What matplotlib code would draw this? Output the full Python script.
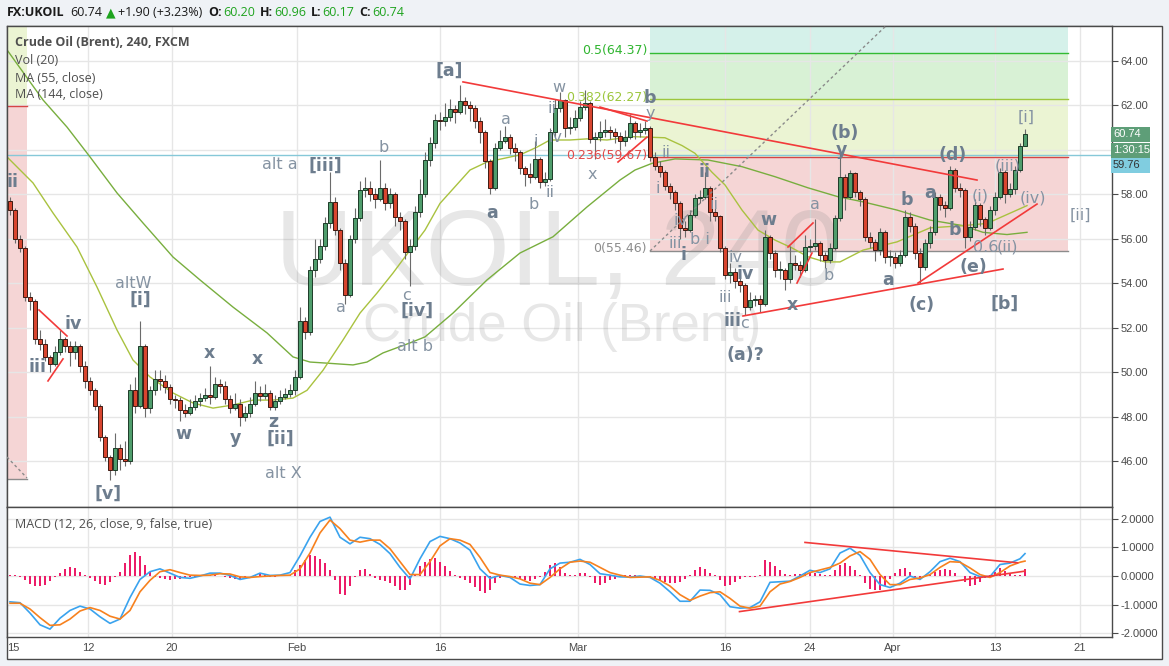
import matplotlib
matplotlib.use("Agg")
import matplotlib.pyplot as plt
import numpy as np
from matplotlib.patches import Rectangle

W, H = 1169, 666

# ---------------- data (4h candles, index = candle no.) ----------------
open0 = 57.7
close = [
    57.3, 56.0, 55.6, 53.4, 53.2, 51.5, 51.3, 50.7, 50.4, 50.9,
    51.5, 51.2, 50.9, 51.2, 50.3, 49.6, 49.2, 48.5, 47.1, 46.2,
    45.6, 46.6, 46.1, 46.0, 49.2, 48.5, 51.2, 48.4, 49.2, 49.7,
    49.6, 49.35, 48.8, 48.75, 48.3, 48.2, 48.45, 48.7, 48.85, 49.0,
    48.9, 49.5, 49.4, 48.8, 48.4, 48.6, 48.0, 48.2, 48.6, 49.1,
    48.95, 49.1, 48.45, 48.7, 48.9, 49.05, 49.2, 49.8, 52.3, 51.8,
    54.6, 55.1, 55.7, 56.7, 57.65, 56.4, 54.9, 53.5, 56.0, 56.95,
    58.2, 58.3, 58.0, 57.8, 58.3, 57.6, 58.0, 57.0, 56.8, 55.4,
    55.7, 57.2, 58.0, 59.55, 60.3, 61.35, 61.3, 61.5, 61.85, 61.7,
    62.2, 62.0, 61.9, 61.3, 60.8, 59.5, 58.3, 60.1, 60.4, 60.6,
    60.1, 59.9, 59.2, 58.9, 58.8, 59.6, 58.55, 58.7, 60.8, 61.9,
    62.25, 61.0, 61.05, 61.45, 61.95, 62.1, 60.5, 60.6, 60.8, 60.9,
    60.8, 60.65, 60.4, 60.6, 61.2, 60.8, 60.9, 61.0, 59.7, 59.3,
    59.0, 58.4, 58.1, 57.6, 56.5, 56.4, 57.1, 57.85, 57.9, 58.3,
    57.2, 57.05, 55.6, 54.4, 54.5, 54.1, 53.95, 52.95, 53.25, 53.3,
    53.1, 56.1, 55.35, 54.6, 54.6, 54.2, 54.9, 54.85, 54.6, 55.65,
    55.7, 55.8, 55.3, 55.05, 55.6, 56.95, 58.8, 57.9, 58.95, 58.1,
    57.8, 56.1, 55.85, 55.5, 56.3, 55.2, 55.2, 54.9, 55.3, 57.0,
    56.6, 55.35, 54.75, 55.8, 56.3, 57.9, 57.55, 57.4, 59.1, 58.3,
    58.2, 56.1, 56.55, 57.55, 56.9, 56.5, 57.3, 57.9, 59.0, 58.0,
    58.25, 59.1, 60.2, 60.74,
]
high = [
    57.9, 57.4, 56.2, 55.7, 53.6, 53.3, 51.9, 51.5, 50.8, 51.2,
    51.9, 51.6, 51.4, 51.4, 51.3, 50.5, 49.8, 49.3, 48.6, 47.2,
    46.3, 47.3, 46.8, 46.9, 49.5, 49.8, 52.3, 51.3, 49.4, 50.1,
    50.1, 49.9, 49.5, 49.0, 48.9, 48.6, 48.8, 49.0, 49.1, 49.3,
    50.3, 49.8, 49.7, 49.6, 49.0, 49.1, 48.8, 48.5, 48.9, 49.6,
    49.4, 49.5, 49.2, 49.0, 49.2, 49.3, 49.5, 50.1, 52.95, 52.5,
    54.8, 56.0, 56.0, 57.0, 59.0, 57.9, 56.5, 55.1, 56.2, 57.4,
    58.6, 58.8, 58.6, 58.3, 59.55, 58.5, 58.3, 58.1, 57.2, 56.9,
    56.0, 57.5, 58.7, 59.9, 60.6, 61.6, 61.7, 62.1, 62.3, 62.0,
    62.9, 62.4, 62.2, 62.0, 61.5, 60.9, 59.6, 60.3, 60.9, 61.1,
    60.7, 60.3, 60.0, 59.3, 59.4, 60.4, 59.7, 59.0, 61.0, 62.3,
    62.6, 62.3, 61.5, 61.8, 62.2, 62.7, 62.2, 60.8, 61.3, 61.4,
    61.1, 61.0, 60.8, 60.9, 61.6, 61.3, 61.2, 61.3, 61.1, 59.9,
    59.5, 59.1, 58.5, 58.2, 57.7, 56.8, 57.3, 58.0, 58.2, 59.0,
    58.4, 57.4, 57.1, 55.7, 54.9, 54.7, 54.4, 54.0, 53.6, 53.5,
    53.5, 56.4, 56.2, 55.5, 55.0, 54.7, 55.7, 55.3, 55.0, 56.2,
    56.0, 56.9, 55.9, 55.4, 55.8, 57.1, 59.85, 58.9, 59.1, 59.0,
    58.2, 57.9, 56.3, 56.0, 56.5, 56.4, 55.5, 55.4, 55.5, 57.3,
    57.2, 56.7, 55.6, 56.0, 56.6, 58.1, 58.0, 57.7, 59.3, 59.2,
    58.5, 58.3, 56.8, 57.8, 57.6, 57.0, 57.5, 58.1, 59.2, 59.1,
    58.5, 59.3, 60.3, 60.96,
]
low = [
    57.1, 55.8, 55.4, 53.2, 52.8, 51.3, 51.0, 50.5, 50.0, 50.3,
    50.8, 50.9, 50.3, 50.6, 50.0, 49.3, 49.0, 48.3, 46.9, 46.0,
    45.15, 45.4, 45.6, 45.8, 45.9, 48.2, 48.4, 48.0, 48.2, 49.0,
    49.2, 49.1, 48.6, 48.4, 47.8, 48.0, 48.1, 48.3, 48.5, 48.7,
    48.6, 48.8, 49.1, 48.6, 48.2, 48.3, 47.6, 47.8, 48.0, 48.5,
    48.7, 48.8, 48.3, 48.3, 48.6, 48.8, 48.9, 49.0, 49.7, 51.5,
    51.7, 54.3, 54.9, 55.5, 56.5, 56.2, 54.6, 53.1, 53.4, 55.8,
    56.8, 57.9, 57.7, 57.4, 57.7, 57.3, 57.4, 56.6, 56.4, 55.1,
    53.9, 55.5, 57.0, 57.9, 59.3, 60.1, 60.9, 61.1, 61.3, 61.2,
    61.6, 61.6, 61.3, 61.0, 60.3, 59.2, 58.0, 58.2, 60.0, 60.3,
    59.8, 59.5, 58.9, 58.4, 58.5, 58.7, 58.3, 58.4, 58.6, 60.6,
    61.7, 60.6, 60.7, 60.9, 61.3, 61.8, 60.3, 59.6, 60.4, 60.6,
    60.5, 60.3, 60.0, 60.2, 60.5, 60.5, 60.6, 60.7, 59.5, 59.1,
    58.8, 58.2, 57.8, 57.3, 56.0, 56.1, 56.3, 57.0, 57.6, 57.8,
    56.8, 56.8, 55.4, 54.2, 54.0, 53.8, 53.6, 52.6, 52.8, 53.0,
    52.7, 53.0, 55.1, 54.3, 54.2, 53.7, 54.0, 54.6, 54.3, 54.5,
    55.4, 55.5, 55.0, 54.7, 54.9, 55.5, 56.8, 57.3, 57.8, 57.9,
    57.5, 55.9, 55.6, 55.0, 55.3, 54.9, 54.8, 54.7, 54.8, 55.2,
    56.3, 55.1, 54.0, 54.6, 55.6, 56.2, 57.3, 57.0, 57.3, 58.1,
    57.9, 55.6, 55.9, 56.4, 56.6, 56.2, 56.4, 57.1, 57.8, 57.6,
    57.9, 58.0, 59.0, 60.17,
]

# moving averages at the candle positions given
ma55_idx = [-0.6, 4.6, 8.6, 13.4, 17.4, 21.4, 24.6, 28, 32.6, 36.6,
            40.6, 44.6, 48.6, 52.6, 56.6, 59.4, 62.6, 66.6, 70, 73.4,
            76.6, 80, 83, 86, 92, 95.4, 102, 105.4, 108, 112,
            115.4, 119.4, 124.6, 131, 134.4, 137, 140.4, 143, 146.4, 149.6,
            153, 156.4, 159.6, 163, 166, 170.6, 177.4, 184, 190.6, 195.4,
            199.4, 203.4]
ma55 = [59.69, 58.52, 57.17, 55.64, 53.84, 51.91, 50.56, 49.8, 49.08, 48.63,
        48.4, 48.54, 48.76, 48.76, 48.85, 49.2, 50.1, 51.46, 52.67, 53.57,
        54.47, 55.5, 56.4, 57.6, 59.1, 59.46, 59.78, 60.13, 60.45, 60.45,
        60.5, 60.45, 60.6, 60.55, 60.2, 59.85, 59.0, 58.43, 57.3, 56.4,
        55.95, 55.6, 55.2, 54.97, 54.97, 55.5, 55.87, 56.5, 56.6, 56.7,
        57.1, 57.5]
ma144_idx = [-0.6, 6.6, 11.4, 16, 21.4, 26.6, 32.6, 38, 44.6, 51.4,
             56.6, 60, 63.4, 68.6, 71.4, 74.6, 80, 83, 88.6, 95.4,
             102, 108.6, 115.4, 122, 125, 128.4, 133, 139.6, 146.4, 153,
             159.6, 165.6, 170.6, 177.4, 184, 190.6, 194.6, 199.4, 203.4]
ma144 = [64.5, 62.25, 61.03, 59.69, 58.07, 56.72, 55.19, 54.16, 52.94, 51.78,
         50.7, 50.47, 50.42, 50.34, 50.47, 50.88, 51.33, 51.6, 52.67, 54.16,
         55.37, 56.1, 57.44, 58.65, 59.1, 59.4, 59.6, 59.55, 59.25, 58.8,
         58.3, 57.9, 57.67, 57.3, 56.85, 56.6, 56.3, 56.2, 56.3]

# MACD / signal read every second candle, histogram every candle
macd_idx = list(range(0, 203, 2)) + [203]
macd = [
    -0.90, -0.93, -1.29, -1.70, -1.85, -1.47, -1.20, -1.05, -1.15, -1.42,
    -1.65, -1.50, -0.75, -0.12, 0.15, 0.25, 0.10, -0.05, -0.08, 0.00,
    0.10, 0.10, 0.02, -0.12, -0.05, 0.10, 0.02, 0.03, 0.12, 0.70,
    1.35, 1.90, 2.05, 1.35, 1.12, 1.35, 1.30, 1.10, 0.78, 0.30,
    -0.10, 0.60, 1.20, 1.38, 1.30, 1.15, 0.90, 0.25, -0.08, 0.02,
    -0.05, -0.28, -0.33, -0.30, 0.25, 0.45, 0.48, 0.58, 0.40, 0.08,
    0.03, -0.03, -0.04, 0.00, -0.05, -0.25, -0.55, -0.88, -0.88, -0.49,
    -0.50, -0.65, -1.07, -1.12, -1.10, -0.90, -0.22, -0.20, -0.18, 0.00,
    0.20, 0.12, 0.25, 0.80, 0.97, 0.72, 0.12, -0.30, -0.40, -0.25,
    0.00, -0.12, 0.15, 0.50, 0.62, 0.50, 0.12, -0.02, -0.02, 0.40,
    0.45, 0.60, 0.78,
]
signal = [
    -0.95, -0.95, -1.15, -1.45, -1.72, -1.70, -1.50, -1.22, -1.10, -1.20,
    -1.40, -1.50, -1.20, -0.55, -0.15, 0.15, 0.22, 0.12, 0.03, 0.02,
    0.03, 0.08, 0.07, -0.03, -0.05, -0.02, 0.00, 0.02, 0.03, 0.25,
    0.80, 1.50, 1.95, 1.65, 1.25, 1.18, 1.25, 1.25, 0.95, 0.50,
    0.05, 0.05, 0.50, 1.05, 1.30, 1.25, 1.10, 0.65, 0.12, 0.03,
    -0.02, -0.10, -0.25, -0.30, -0.05, 0.25, 0.48, 0.52, 0.48, 0.30,
    0.12, 0.03, -0.05, -0.04, -0.03, -0.15, -0.35, -0.65, -0.85, -0.70,
    -0.58, -0.55, -0.78, -1.05, -1.12, -1.05, -0.55, -0.28, -0.19, -0.05,
    0.12, 0.21, 0.30, 0.45, 0.70, 0.85, 0.58, 0.05, -0.30, -0.30,
    -0.12, -0.07, 0.05, 0.30, 0.50, 0.48, 0.28, 0.05, -0.05, 0.12,
    0.35, 0.48, 0.52,
]
hist = [
    0.03, 0.02, -0.05, -0.15, -0.28, -0.36, -0.35, -0.30, -0.18, -0.05,
    0.12, 0.25, 0.31, 0.28, 0.15, 0.02, -0.08, -0.18, -0.27, -0.31,
    -0.22, -0.05, 0.15, 0.45, 0.72, 0.85, 0.70, 0.40, 0.15, -0.02,
    -0.08, -0.12, -0.14, -0.12, -0.10, -0.08, -0.05, -0.03, 0.00, 0.02,
    0.04, 0.03, 0.00, -0.04, -0.08, -0.10, -0.09, -0.05, 0.00, 0.05,
    0.06, 0.03, -0.02, -0.02, 0.00, 0.02, 0.05, 0.20, 0.38, 0.55,
    0.72, 0.70, 0.60, 0.45, 0.20, -0.15, -0.62, -0.66, -0.35, -0.02,
    0.20, 0.24, 0.08, -0.08, -0.15, -0.18, -0.25, -0.35, -0.48, -0.50,
    -0.30, 0.05, 0.35, 0.50, 0.58, 0.62, 0.50, 0.35, 0.18, 0.03,
    -0.08, -0.15, -0.25, -0.40, -0.52, -0.60, -0.48, -0.25, -0.08, -0.05,
    -0.03, -0.08, -0.12, -0.15, -0.18, -0.10, -0.02, 0.15, 0.38, 0.46,
    0.30, 0.10, 0.04, 0.05, 0.10, 0.12, -0.05, -0.25, -0.31, -0.25,
    -0.15, -0.10, -0.04, 0.02, 0.03, 0.02, 0.01, -0.02, -0.06, -0.12,
    -0.18, -0.22, -0.25, -0.25, -0.22, -0.12, 0.05, 0.22, 0.32, 0.25,
    0.12, 0.02, -0.15, -0.35, -0.30, -0.20, -0.12, -0.05, -0.03, -0.05,
    0.05, 0.56, 0.50, 0.35, 0.20, 0.08, 0.05, 0.08, 0.07, 0.10,
    0.15, 0.12, 0.08, 0.05, 0.05, 0.20, 0.40, 0.45, 0.35, 0.22,
    0.05, -0.25, -0.45, -0.50, -0.48, -0.35, -0.12, 0.10, 0.25, 0.27,
    0.15, -0.05, -0.10, -0.05, 0.05, 0.15, 0.22, 0.25, 0.20, 0.10,
    0.00, -0.20, -0.35, -0.30, -0.22, -0.08, 0.05, 0.15, 0.27, 0.18,
    0.08, 0.03, 0.05, 0.25,
]

date_pos = [0.6, 15.6, 32.4, 57.4, 86, 113.6, 143, 160, 176.6, 197, 214]
date_lbl = ["15", "12", "20", "Feb", "16", "Mar", "16", "24", "Apr", "13", "21"]

fib_x = (128, 211.6)
fib_lvls = [55.46, 59.67, 62.27, 64.37]
fib_txt = ["0(55.46)", "0.236(59.67)", "0.382(62.27)", "0.5(64.37)"]
left_fib_x = (-0.6, 3.4)
left_fib = (45.22, 61.97)
ref_price = 59.76

# elliott wave annotations: text, candle, price, bold
waves = [
    ("ii", 0.6, 58.56, True), ("iii", 5.4, 50.25, True), ("iv", 12.6, 52.18, True),
    ("altW", 24.6, 53.98, False), ("[i]", 26.0, 53.26, True), ("[v]", 19.6, 44.54, True),
    ("w", 34.6, 47.24, True), ("x", 39.8, 50.88, True), ("y", 45.0, 47.06, True),
    ("x", 49.4, 50.61, True), ("z", 52.6, 47.78, True), ("[ii]", 54.0, 47.01, True),
    ("alt X", 54.6, 45.48, False), ("alt a", 54.0, 59.33, False), ("[iii]", 63.0, 59.28, True),
    ("b", 74.8, 60.13, False), ("a", 66.2, 52.90, False), ("c", 79.2, 53.48, False),
    ("[iv]", 81.4, 52.76, True), ("alt b", 81.0, 51.19, False), ("[a]", 87.8, 63.55, True),
    ("a", 99.2, 61.35, False), ("a", 96.4, 57.17, True), ("b", 104.8, 57.57, False),
    ("ii", 108.0, 58.11, False), ("i", 105.2, 60.40, False), ("ii", 108.4, 61.87, False),
    ("iv", 109.0, 60.58, False), ("w", 109.8, 62.83, False), ("x", 116.4, 58.92, False),
    ("b", 128.0, 62.34, True), ("y", 128.0, 61.62, False), ("ii", 131.2, 59.87, False),
    ("i", 129.6, 58.29, False), ("ii", 138.8, 59.01, True), ("ii", 140.8, 57.53, False),
    ("iv", 134.0, 56.85, False), ("iii", 133.0, 55.82, False), ("i", 134.6, 55.28, True),
    ("b i", 138.0, 55.96, False), ("iv", 145.0, 55.15, False), ("iv", 147.0, 54.43, True),
    ("iii", 143.0, 53.35, False), ("iii", 144.4, 52.31, True), ("c", 146.8, 52.18, False),
    ("(a)?", 147.0, 50.79, True), ("w", 151.6, 56.85, True), ("x", 156.4, 53.03, True),
    ("a", 161.0, 57.53, False), ("b", 163.8, 54.38, False), ("(b)", 167.0, 60.76, True),
    ("y", 166.2, 60.0, True), ("a", 175.6, 54.16, True), ("b", 179.4, 57.75, True),
    ("(c)", 182.4, 53.03, True), ("a", 184.0, 58.07, True), ("(d)", 188.6, 59.78, True),
    ("b", 189.0, 56.40, True), ("(e)", 192.6, 54.74, True), ("0.6", 195.2, 55.64, False),
    ("(ii)", 199.4, 55.64, False), ("(i)", 194.0, 57.93, False), ("(iii)", 199.6, 59.28, False),
    ("(iv)", 204.6, 57.84, False), ("[i]", 203.2, 61.48, False), ("[b]", 199.0, 53.08, True),
    ("[ii]", 214.0, 57.08, False),
]
trend_lines = [
    ((90.6, 63.06), (193.4, 58.65)), ((118.0, 61.93), (127.4, 61.30)),
    ((121.6, 59.46), (127.4, 60.58)), ((5.8, 52.81), (11.4, 51.64)),
    ((7.6, 49.62), (10.6, 50.61)), ((146.6, 52.54), (198.6, 54.65)),
    ((181.6, 54.02), (205.4, 57.57)), ((155.6, 55.64), (160.6, 56.72)),
    ((157.4, 54.02), (160.4, 55.37)),
]
dotted_lines = [((128, 55.46), (176, 65.75)), ((-0.6, 46.2), (3.4, 45.26))]
macd_lines = [((159, 1.17), (201.5, 0.46)), ((145.9, -1.24), (203, 0.17))]

AXC = "#4a4a4a"
GRID = "#e6e6e6"


def fx(px):
    return px / W


def fy(py):
    return 1 - py / H


def put_row(fig, x, y, pieces, size=9):
    r = fig.canvas.get_renderer()
    for s, col, bold, gap in pieces:
        t = fig.text(fx(x), fy(y), s, color=col, fontsize=size,
                     fontweight="bold" if bold else "normal",
                     family=["Open Sans", "DejaVu Sans"], va="center", ha="left")
        x += t.get_window_extent(renderer=r).width + gap


def main():
    fig = plt.figure(figsize=(W / 100, H / 100), dpi=100, facecolor="#eff2f6")
    fig.patches.append(Rectangle((fx(7), fy(659)), (1162 - 7) / W, (659 - 26) / H,
                                 transform=fig.transFigure, facecolor="white",
                                 edgecolor=AXC, lw=1, zorder=-1))

    ax = fig.add_axes([fx(7), fy(507), (1112 - 7) / W, (507 - 26) / H])
    mx = fig.add_axes([fx(7), fy(637), (1112 - 7) / W, (637 - 507) / H])
    for a in (ax, mx):
        a.set_xlim(-0.6, 220.4)
        a.set_facecolor("white")
        for s in a.spines.values():
            s.set_color(AXC)
            s.set_linewidth(1)
        a.set_axisbelow(True)
        a.grid(True, color=GRID, lw=1, zorder=0.5)
        a.set_xticks(date_pos[1:])
        a.yaxis.tick_right()
        a.tick_params(axis="y", length=4, color=AXC, labelsize=8, labelcolor=AXC, pad=2)
    ax.set_ylim(43.955, 65.573)
    mx.set_ylim(-2.125, 2.404)
    ax.tick_params(axis="x", length=0, labelbottom=False)

    ax.set_yticks(np.arange(46, 65, 2))
    ax.set_yticklabels(["%.2f" % v for v in np.arange(46, 65, 2)], family="Liberation Sans")
    mx.set_yticks([-2, -1, 0, 1, 2])
    mx.set_yticklabels(["%.4f" % v for v in [-2, -1, 0, 1, 2]], family="Liberation Sans")
    mx.set_xticks(date_pos)
    mx.set_xticklabels(date_lbl, family="Liberation Sans")
    mx.tick_params(axis="x", length=0, labelsize=8, labelcolor=AXC, pad=4)
    # the left-edge "15" label has no gridline of its own
    mx.get_xgridlines()[0].set_visible(False)

    # fibonacci zones
    top = ax.get_ylim()[1]
    zone_cols = ["#f5d5d5", "#ebf4d3", "#d8f1d5", "#d5f1ea"]
    bounds = fib_lvls + [top]
    for j, c in enumerate(zone_cols):
        ax.fill_between(fib_x, bounds[j], bounds[j + 1], color=c, lw=0, zorder=0.3)
    line_cols = ["#8c8c8c", "#d64545", "#9cc63c", "#33bb33"]
    txt_cols = ["#8c8c8c", "#e04a4a", "#9cc63c", "#2fb52f"]
    for lv, lc, tc, tx in zip(fib_lvls, line_cols, txt_cols, fib_txt):
        ax.plot(fib_x, [lv, lv], color=lc, lw=1, zorder=1.5)
        ax.text(127.4, lv + 0.1, tx, color=tc, fontsize=9, ha="right", va="center", zorder=5)
    ax.fill_between(left_fib_x, left_fib[0], left_fib[1], color="#f5d5d5", lw=0, zorder=0.3)
    ax.fill_between(left_fib_x, left_fib[1], top, color="#ebf4d3", lw=0, zorder=0.3)
    ax.plot(left_fib_x, [left_fib[1]] * 2, color="#d64545", lw=1, zorder=1.5)
    ax.plot(left_fib_x, [left_fib[0]] * 2, color="#8c8c8c", lw=1, zorder=1.5)

    ax.axhline(ref_price, color="#86c8d8", lw=1, zorder=1.6)

    # watermark
    ax.text(109.6, 53.93, "UKOIL, 240", fontsize=78, color="#808080", alpha=0.19,
            family="Liberation Sans", ha="center", va="baseline", zorder=1)
    ax.text(110.4, 51.42, "Crude Oil (Brent)", fontsize=38, color="#808080", alpha=0.19,
            family="Liberation Sans", ha="center", va="baseline", zorder=1)

    # moving averages
    ax.plot(ma144_idx, ma144, color="#78ae3e", lw=1, zorder=2)
    ax.plot(ma55_idx, ma55, color="#a9c23f", lw=1, zorder=2)

    # candles
    c = np.array(close)
    o = np.array([open0] + close[:-1])
    idx = np.arange(len(c))
    up = c >= o
    ax.vlines(idx, low, high, color="#6b6b6b", lw=0.8, zorder=2.5)
    body_lo = np.minimum(o, c)
    body_h = np.maximum(np.abs(c - o), 0.05)
    ax.bar(idx, body_h, bottom=body_lo, width=0.72,
           color=np.where(up, "#4f9d6c", "#d8452f"),
           edgecolor=np.where(up, "#1d3b28", "#3e1a12"), lw=0.7, zorder=3)

    for (x0, y0), (x1, y1) in trend_lines:
        ax.plot([x0, x1], [y0, y1], color="#f23a3a", lw=1.2, zorder=4)
    for (x0, y0), (x1, y1) in dotted_lines:
        ax.plot([x0, x1], [y0, y1], color="#8a8a8a", lw=1, ls=(0, (2, 2)), zorder=4)

    for t, x, y, b in waves:
        ax.text(x, y, t, fontsize=12.5 if b else 11.5, fontweight="bold" if b else "normal",
                color="#6d7d8e" if b else "#8593a2", ha="center", va="center", zorder=6)

    # MACD pane
    mx.bar(idx, hist, width=0.38, color="#ec1c68", lw=0, zorder=2)
    mx.plot(macd_idx, macd, color="#3aa3ee", lw=1.2, zorder=3)
    mx.plot(macd_idx, signal, color="#f7811e", lw=1.2, zorder=3)
    for (x0, y0), (x1, y1) in macd_lines:
        mx.plot([x0, x1], [y0, y1], color="#f23a3a", lw=1.2, zorder=4)

    # legends
    lg = dict(family=["Open Sans", "DejaVu Sans"], fontsize=9, color="#4f4f4f",
              va="center", ha="left")
    fig.text(fx(15), fy(43), "Crude Oil (Brent), 240, FXCM", fontweight="bold", **lg)
    fig.text(fx(15), fy(61), "Vol (20)", **lg)
    fig.text(fx(15), fy(78), "MA (55, close)", **lg)
    fig.text(fx(15), fy(95), "MA (144, close)", **lg)
    fig.text(fx(15), fy(524), "MACD (12, 26, close, 9, false, true)", **lg)

    # header
    g = "#1ea31e"
    k = "#1a1a1a"
    put_row(fig, 7, 12.5, [
        ("FX:UKOIL", k, True, 6), ("60.74", k, False, 3), ("\u25b2", g, False, 3),
        ("+1.90 (+3.23%)", k, False, 6), ("O:", k, True, 1), ("60.20", g, False, 5),
        ("H:", k, True, 1), ("60.96", g, False, 5), ("L:", k, True, 1),
        ("60.17", g, False, 5), ("C:", k, True, 1), ("60.74", g, False, 0),
    ])

    # price boxes on the right axis
    for yc, txt, face, tc in [(134, "60.74", "#5e9e78", "white"),
                              (150, "1:30:15", "#5e9e78", "white"),
                              (165.5, "59.76", "#80cde0", "#333333")]:
        fig.patches.append(Rectangle((fx(1111), fy(yc + 7.5)), 39 / W, 15 / H,
                                     transform=fig.transFigure, facecolor=face,
                                     edgecolor="none", zorder=5))
        fig.text(fx(1113), fy(yc), txt, color=tc, fontsize=8, family="Liberation Sans",
                 va="center", ha="left", zorder=6)

    fig.savefig("out.png", dpi=100, facecolor=fig.get_facecolor())
    plt.close(fig)
    return 0


if __name__ == "__main__":
    main()
